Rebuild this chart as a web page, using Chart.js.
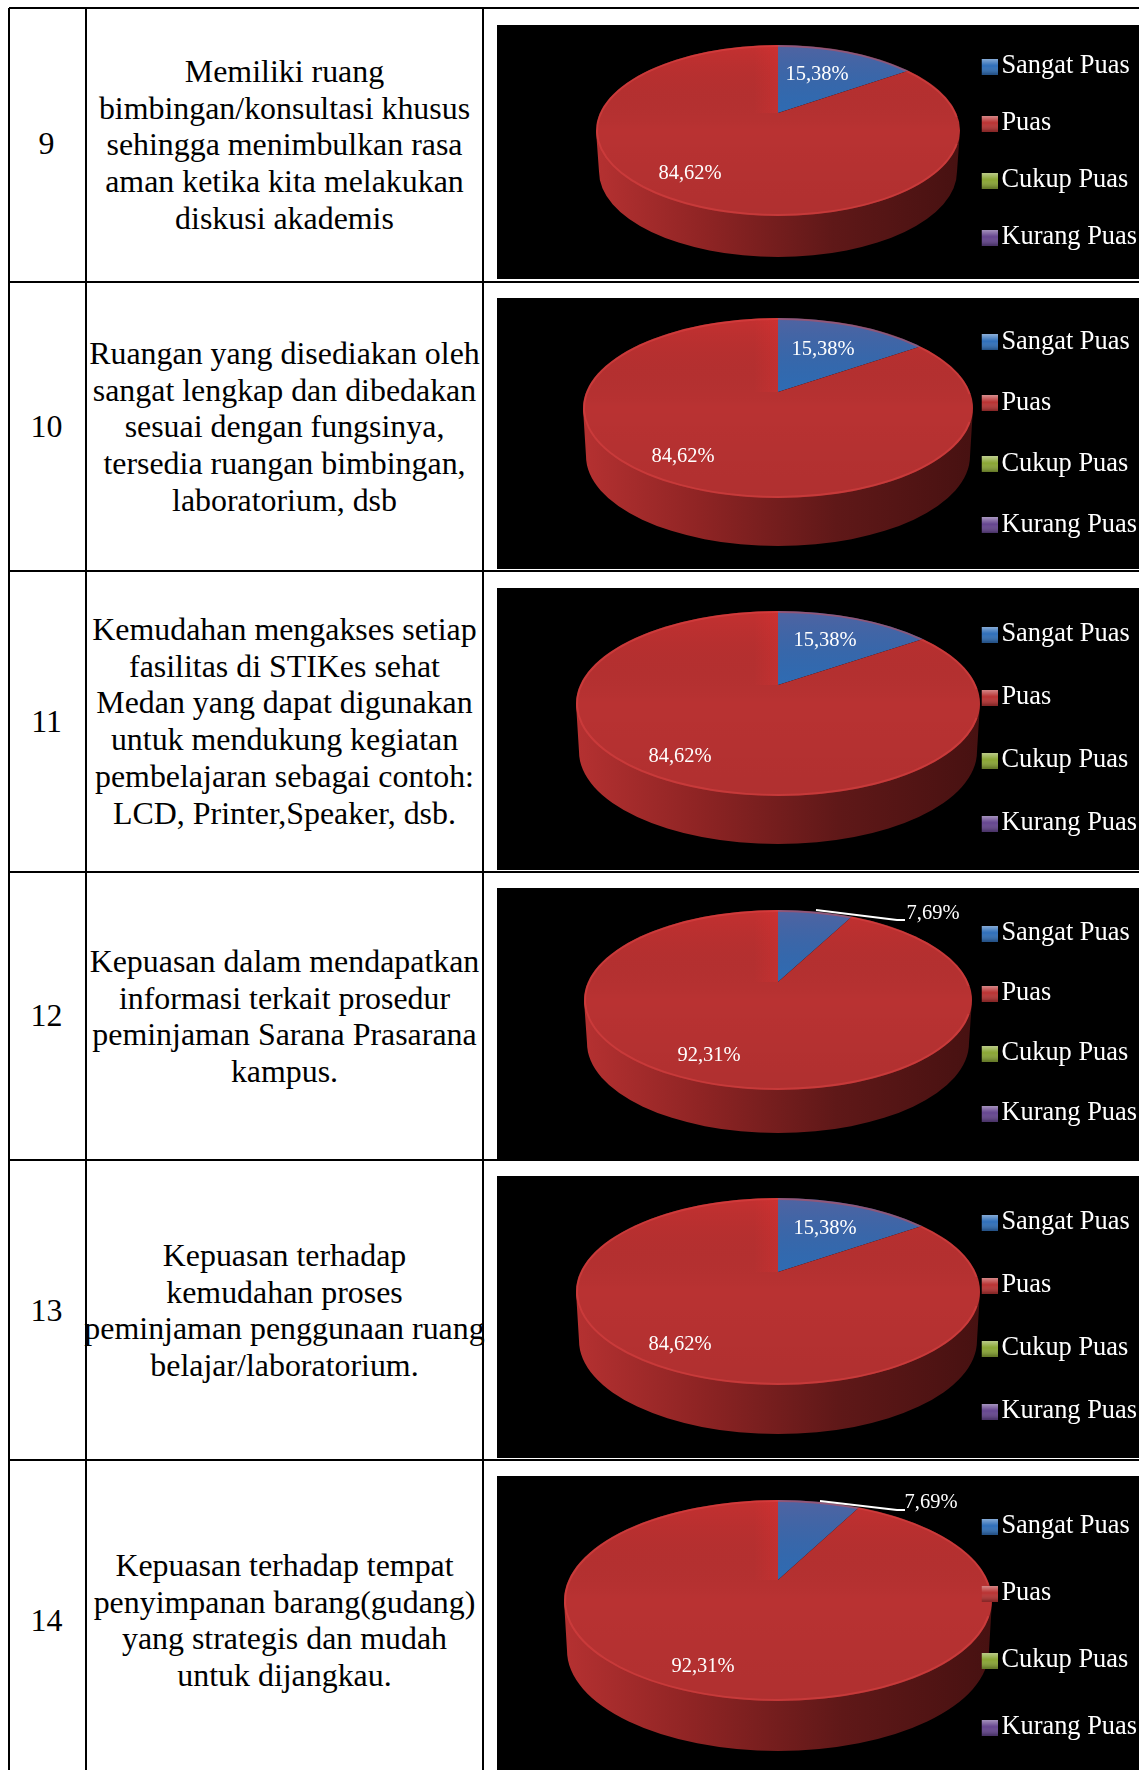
<!DOCTYPE html>
<html>
<head>
<meta charset="utf-8">
<title>Kepuasan Sarana Prasarana</title>
<script src="https://cdn.jsdelivr.net/npm/chart.js@4"></script>
<style>
  html, body { margin: 0; padding: 0; background: #fff; }
  body { position: relative; width: 1139px; height: 1770px; overflow: hidden; font-family: "Liberation Serif", serif; color: #000; }
  .line { position: absolute; background: #000; }
  .txt { position: absolute; text-align: center; font-size: 31.9px; line-height: 36.7px; transform: translateY(-50%); white-space: nowrap; }
  .panel { position: absolute; left: 497px; right: 0; background: #000; overflow: hidden; }
  .panel canvas { position: absolute; left: 0; }
</style>
</head>
<body>
<script>
// data
const categories = ['Sangat Puas', 'Puas', 'Cukup Puas', 'Kurang Puas'];
const questionNo = ['9', '10', '11', '12', '13', '14'];
const sangatPuas = [15.38, 15.38, 15.38, 7.69, 15.38, 7.69];
const puas = [84.62, 84.62, 84.62, 92.31, 84.62, 92.31];
const cukupPuas = [0, 0, 0, 0, 0, 0];
const kurangPuas = [0, 0, 0, 0, 0, 0];
const questionLines = [
  ['Memiliki ruang', 'bimbingan/konsultasi khusus', 'sehingga menimbulkan rasa', 'aman ketika kita melakukan', 'diskusi akademis'],
  ['Ruangan yang disediakan oleh', 'sangat lengkap dan dibedakan', 'sesuai dengan fungsinya,', 'tersedia ruangan bimbingan,', 'laboratorium, dsb'],
  ['Kemudahan mengakses setiap', 'fasilitas di STIKes sehat', 'Medan yang dapat digunakan', 'untuk mendukung kegiatan', 'pembelajaran sebagai contoh:', 'LCD, Printer,Speaker, dsb.'],
  ['Kepuasan dalam mendapatkan', 'informasi terkait prosedur', 'peminjaman Sarana Prasarana', 'kampus.'],
  ['Kepuasan terhadap', 'kemudahan proses', 'peminjaman penggunaan ruang', 'belajar/laboratorium.'],
  ['Kepuasan terhadap tempat', 'penyimpanan barang(gudang)', 'yang strategis dan mudah', 'untuk dijangkau.']
];

// colours
const sliceColors = ['#2f6fb9', '#b93232', '#8aa634', '#65458f'];

// page layout, px
const rowLines = [8, 282, 571, 872, 1160, 1460];
const colLines = [9, 86, 483];
const textCenter = [146, 428, 722, 1017, 1311, 1621];
const numberCenter = [144, 427, 722, 1016, 1311, 1621];
const panelTop = [25, 298, 588, 888, 1176, 1476];
const panelBottom = [279, 569, 870, 1159, 1458, 1778];
const pieRx = [182, 195, 202, 194, 202, 214];
const pieTop = [45, 318, 611, 910, 1198, 1500];
const pieFaceBottom = [216, 498, 796, 1090, 1385, 1701];
const pieBottom = [257, 546, 844, 1133, 1434, 1751];
const pieApexY = [113, 392, 685, 982, 1272, 1580];
const legendStep = [57, 61, 63, 60, 63, 67];
const firstLabelPos = [[817, 75], [823, 350], [825, 641], [933, 914], [825, 1229], [931, 1503]];
const secondLabelPos = [[690, 174], [683, 457], [680, 757], [709, 1056], [680, 1345], [703, 1667]];
const leaderLines = [null, null, null, [816, 910, 897, 920], null, [820, 1501, 897, 1510]];
const pieCx = 778, panelLeft = 497, legendFont = 26.4, legendOverhang = 8;

function addLine(x, y, w, h) {
  const d = document.createElement('div');
  d.className = 'line';
  d.style.cssText = `left:${x}px;top:${y}px;width:${w}px;height:${h}px`;
  document.body.appendChild(d);
}
function addText(html, x, w, y) {
  const d = document.createElement('div');
  d.className = 'txt';
  d.style.cssText = `left:${x}px;width:${w}px;top:${y}px`;
  d.innerHTML = html;
  document.body.appendChild(d);
}

rowLines.forEach(y => addLine(colLines[0], y - 1, 1139 - colLines[0], 2));
colLines.forEach(x => addLine(x - 1, rowLines[0], 2, 1770 - rowLines[0]));

function legendIcon(color) {
  // 4px of empty space on the left moves the marker closer to its text
  const c = document.createElement('canvas');
  c.width = 20;
  c.height = 16;
  const g = c.getContext('2d');
  g.fillStyle = color;
  g.fillRect(4, 0, 16, 16);
  // bevel of the old office legend marker
  const shade = g.createLinearGradient(0, 0, 0, 16);
  shade.addColorStop(0, 'rgba(255,255,255,.45)');
  shade.addColorStop(.45, 'rgba(255,255,255,0)');
  shade.addColorStop(1, 'rgba(0,0,0,.3)');
  g.fillStyle = shade;
  g.fillRect(4, 0, 16, 16);
  return c;
}
const icons = sliceColors.map(legendIcon);

const pie3d = {
  id: 'pie3d',
  beforeDraw(chart, args, o) {
    const ctx = chart.ctx;
    const arcs = chart.getDatasetMeta(0).data;
    const cx = o.cx, top = o.top, rx = o.rx;
    const ry = (o.faceBottom - top) / 2;
    const cy = top + ry;
    const depth = o.bottom - o.faceBottom;

    // wall of the disc
    const wall = ctx.createLinearGradient(cx - rx, 0, cx + rx, 0);
    wall.addColorStop(0, '#b53131');
    wall.addColorStop(.3, '#8f2424');
    wall.addColorStop(.65, '#5f1818');
    wall.addColorStop(1, '#471111');
    ctx.save();
    ctx.fillStyle = wall;
    ctx.beginPath();
    ctx.ellipse(cx, cy + depth, rx - 3, ry, 0, 0, Math.PI);
    ctx.lineTo(cx - rx, cy);
    ctx.lineTo(cx + rx, cy);
    ctx.closePath();
    ctx.fill();
    ctx.restore();

    // top face, slices come from the arc elements
    ctx.save();
    ctx.beginPath();
    ctx.ellipse(cx, cy, rx, ry, 0, 0, Math.PI * 2);
    ctx.clip();
    const grow = 1.5;
    arcs.forEach(arc => {
      ctx.save();
      ctx.translate(cx, o.apexY);
      ctx.scale(rx * grow / arc.outerRadius, ry * grow / arc.outerRadius);
      ctx.translate(-arc.x, -arc.y);
      arc.draw(ctx);
      ctx.restore();
    });
    const shade = ctx.createLinearGradient(0, top, 0, top + 2 * ry);
    shade.addColorStop(0, 'rgba(255,40,40,.16)');
    shade.addColorStop(.5, 'rgba(0,0,0,0)');
    shade.addColorStop(1, 'rgba(0,0,0,.05)');
    ctx.fillStyle = shade;
    ctx.fillRect(cx - rx, top, rx * 2, ry * 2);
    // glare streak next to the first slice
    const glare = ctx.createLinearGradient(cx - 24, 0, cx, 0);
    glare.addColorStop(0, 'rgba(235,50,50,0)');
    glare.addColorStop(1, 'rgba(235,50,50,.25)');
    ctx.fillStyle = glare;
    ctx.fillRect(cx - 24, top, 24, o.apexY - top);
    ctx.restore();

    // rim light
    ctx.save();
    ctx.strokeStyle = 'rgba(226,70,70,.45)';
    ctx.lineWidth = 2;
    ctx.beginPath();
    ctx.ellipse(cx, cy, rx - 1, ry - 1, 0, Math.PI * .05, Math.PI * 1.95);
    ctx.stroke();
    ctx.restore();
  },
  beforeDatasetsDraw() {
    return false;
  },
  afterDraw(chart, args, o) {
    const ctx = chart.ctx;
    const values = chart.data.datasets[0].data;
    ctx.save();
    ctx.fillStyle = '#fff';
    ctx.strokeStyle = '#fff';
    ctx.font = '20.5px "Liberation Serif"';
    ctx.textAlign = 'center';
    ctx.textBaseline = 'middle';
    o.labelPos.forEach((p, i) => {
      ctx.fillText(values[i].toFixed(2).replace('.', ',') + '%', p[0], p[1]);
    });
    if (o.leader) {
      ctx.lineWidth = 2;
      ctx.beginPath();
      ctx.moveTo(o.leader[0], o.leader[1]);
      ctx.lineTo(o.leader[2], o.leader[3]);
      ctx.lineTo(o.leader[2] + 8, o.leader[3]);
      ctx.stroke();
    }
    ctx.restore();
  }
};

questionNo.forEach((no, i) => {
  addText(no, colLines[0] - 1, colLines[1] - colLines[0], numberCenter[i]);
  addText(questionLines[i].join('<br>'), colLines[1] - 3, colLines[2] - colLines[1] + 6, textCenter[i]);

  const h = panelBottom[i] - panelTop[i];
  const pad = legendStep[i] - legendFont;
  const panel = document.createElement('div');
  panel.className = 'panel';
  panel.style.cssText = `top:${panelTop[i]}px;height:${h}px`;
  const canvas = document.createElement('canvas');
  // canvas is taller than the panel so the legend padding falls outside it
  canvas.width = 1139 - panelLeft + legendOverhang;
  canvas.height = h + 2 * Math.ceil(pad);
  canvas.style.top = -Math.ceil(pad) + 'px';
  panel.appendChild(canvas);
  document.body.appendChild(panel);

  const localY = y => y - panelTop[i] + Math.ceil(pad);
  const toLocal = p => [p[0] - panelLeft, localY(p[1])];
  const lead = leaderLines[i];
  new Chart(canvas, {
    type: 'pie',
    data: {
      labels: categories,
      datasets: [{
        data: [sangatPuas[i], puas[i], cukupPuas[i], kurangPuas[i]],
        backgroundColor: sliceColors,
        borderWidth: 0
      }]
    },
    options: {
      responsive: false,
      animation: false,
      events: [],
      layout: { padding: 0 },
      plugins: {
        tooltip: { enabled: false },
        legend: {
          position: 'right',
          labels: {
            color: '#fff',
            font: { family: '"Liberation Serif"', size: legendFont },
            padding: pad,
            usePointStyle: true,
            pointStyleWidth: 1,
            generateLabels(chart) {
              const items = Chart.overrides.pie.plugins.legend.labels.generateLabels(chart);
              items.forEach((it, k) => { it.pointStyle = icons[k]; });
              return items;
            }
          }
        },
        pie3d: {
          cx: pieCx - panelLeft,
          rx: pieRx[i],
          top: localY(pieTop[i]),
          faceBottom: localY(pieFaceBottom[i]),
          bottom: localY(pieBottom[i]),
          apexY: localY(pieApexY[i]),
          labelPos: [toLocal(firstLabelPos[i]), toLocal(secondLabelPos[i])],
          leader: lead ? [lead[0] - panelLeft, localY(lead[1]), lead[2] - panelLeft, localY(lead[3])] : null
        }
      }
    },
    plugins: [pie3d]
  });
});
</script>
</body>
</html>
